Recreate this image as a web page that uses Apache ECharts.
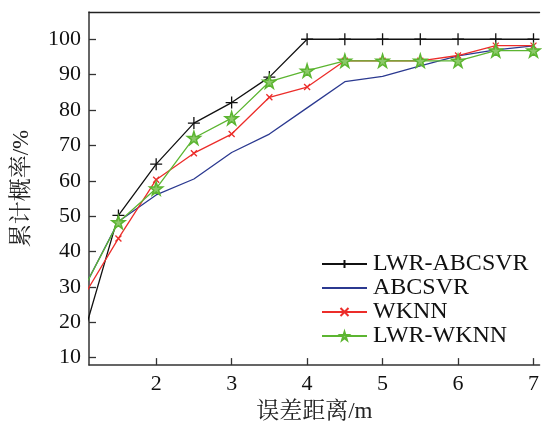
<!DOCTYPE html>
<html>
<head>
<meta charset="utf-8">
<script src="https://cdn.jsdelivr.net/npm/echarts@6/dist/echarts.min.js"></script>
<style>
*{margin:0;padding:0;}
body{background:#fff;}
</style>
</head>
<body>
<div id="errChart" style="width:542px;height:428px"></div>
<script>
// x positions (error distance, m); first point sits left of the visible axis and gets clipped
var xValues = [1, 1.5, 2, 2.5, 3, 3.5, 4, 4.5, 5, 5.5, 6, 6.5, 7]
var lwrAbcsvr = [13.6, 50.2, 64.7, 76.3, 82.1, 89.3, 100, 100, 100, 100, 100, 100, 100]
var abcsvr = [27.9, 48.5, 56.0, 60.5, 68.0, 73.2, 80.6, 88.0, 89.5, 92.5, 95.3, 97.0, 98.1]
var wknn = [26.0, 43.7, 60.3, 67.8, 73.2, 83.6, 86.5, 93.9, 93.9, 93.9, 95.4, 98.2, 98.2]
var lwrWknn = [27.9, 48.3, 57.8, 72.1, 77.7, 88.0, 91.1, 93.9, 93.9, 93.9, 93.9, 96.8, 96.8]
var yTicks = [10, 20, 30, 40, 50, 60, 70, 80, 90, 100]
var xTicks = [2, 3, 4, 5, 6, 7]

var serif = '"Liberation Serif", "Noto Serif CJK SC", "Noto Sans CJK SC", serif'

function pairs(arr){
  return xValues.map(function(x, i){ return [x, arr[i]] })
}

var chart = echarts.init(document.getElementById('errChart'))
var option = {
  animation: false,
  textStyle: {fontFamily: serif},
  grid: {left: 89, right: 0, top: 12, bottom: 62},
  legend: {
    left: 321, top: 252,
    padding: 0,
    orient: 'vertical',
    itemWidth: 45, itemHeight: 10, itemGap: 0,
    textStyle: {fontFamily: serif, fontSize: 24, color: '#111', lineHeight: 24, padding: [0, 0, 0, 1]},
    data: [
      'LWR-ABCSVR',
      {name: 'ABCSVR', itemStyle: {opacity: 0}},
      'WKNN',
      'LWR-WKNN'
    ]
  },
  xAxis: [
    {
      type: 'value',
      min: 1.11, max: 7.08,
      name: '误差距离/m',
      nameLocation: 'middle',
      nameGap: 32,
      nameTextStyle: {fontFamily: serif, fontSize: 23, color: '#222'},
      axisLine: {lineStyle: {color: '#333', width: 1.5}},
      axisTick: {inside: true, length: 7, customValues: xTicks, lineStyle: {color: '#333', width: 1.3}},
      axisLabel: {customValues: xTicks, fontSize: 22, color: '#111', margin: 8},
      splitLine: {show: false}
    },
    {
      // top frame line only
      type: 'value',
      position: 'top',
      min: 1.11, max: 7.08,
      axisLine: {show: true, onZero: false, lineStyle: {color: '#222', width: 1.3}},
      axisTick: {show: false},
      axisLabel: {show: false},
      splitLine: {show: false}
    }
  ],
  yAxis: {
    type: 'value',
    min: 7.9, max: 107.7,
    name: '累计概率/%',
    nameLocation: 'middle',
    nameGap: 56,
    nameTextStyle: {fontFamily: serif, fontSize: 23, color: '#222'},
    axisLine: {show: true, lineStyle: {color: '#333', width: 1.5}},
    axisTick: {show: true, inside: true, length: 7, customValues: yTicks, lineStyle: {color: '#333', width: 1.3}},
    axisLabel: {customValues: yTicks, fontSize: 22, color: '#111', margin: 8},
    splitLine: {show: false}
  },
  series: [
    {
      name: 'LWR-ABCSVR',
      type: 'line',
      data: pairs(lwrAbcsvr),
      clip: true,
      symbol: 'path://M5,0L5,10M0,5L10,5',
      symbolSize: 12,
      lineStyle: {color: '#111', width: 1.3},
      itemStyle: {color: 'none', borderColor: '#111', borderWidth: 1.3}
    },
    {
      name: 'ABCSVR',
      type: 'line',
      data: pairs(abcsvr),
      clip: true,
      symbol: 'none',
      lineStyle: {color: '#2b3990', width: 1.3},
      itemStyle: {color: '#2b3990'}
    },
    {
      name: 'WKNN',
      type: 'line',
      data: pairs(wknn),
      clip: true,
      symbol: 'path://M0,0L10,10M10,0L0,10',
      symbolSize: 6,
      lineStyle: {color: '#ec2d2a', width: 1.3},
      itemStyle: {color: 'none', borderColor: '#ec2d2a', borderWidth: 1.3}
    },
    {
      name: 'LWR-WKNN',
      type: 'line',
      data: pairs(lwrWknn),
      clip: true,
      symbol: 'path://M50,0L61,35L98,35L68,57L79,91L50,70L21,91L32,57L2,35L39,35Z',
      symbolSize: 13,
      lineStyle: {color: '#5cb531', width: 1.3},
      itemStyle: {color: '#8cc96a', borderColor: '#5cb531', borderWidth: 1.5}
    }
  ]
}
chart.setOption(option)
</script>
</body>
</html>
